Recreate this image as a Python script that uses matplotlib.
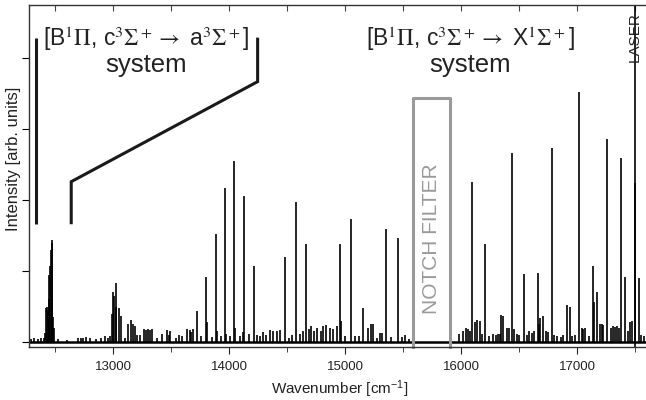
import numpy as np
import matplotlib
matplotlib.use('Agg')
import matplotlib.pyplot as plt
from matplotlib.ticker import MultipleLocator

plt.rcParams['font.family'] = ['Liberation Sans', 'DejaVu Sans']
plt.rcParams['mathtext.fontset'] = 'custom'
plt.rcParams['mathtext.rm'] = 'Liberation Sans'
plt.rcParams['mathtext.it'] = 'Liberation Sans:italic'
plt.rcParams['mathtext.bf'] = 'Liberation Sans:bold'

# Line positions [cm-1] and heights [arb. units]
peak_pos = [
    12290, 12320, 12350, 12380, 12405, 12415, 12425, 12430, 12437, 12445,
    12452, 12457, 12463, 12471, 12476, 12481, 12490, 12530, 12600, 12700,
    12720, 12745, 12770, 12800, 12850, 12900, 12930, 12960, 12975,
    12993, 13003, 13012, 13023, 13030, 13055, 13069, 13103, 13132, 13152,
    13175, 13190, 13210, 13230, 13270, 13285, 13300, 13320, 13335, 13380,
    13425, 13465, 13480, 13494, 13540, 13567, 13595, 13640, 13660, 13675,
    13690, 13721, 13760, 13802, 13810, 13850, 13884, 13893, 13930, 13966,
    13975, 14010, 14046, 14055, 14095, 14125, 14132, 14170, 14218, 14240,
    14270, 14293, 14320, 14350, 14380, 14410, 14440, 14483, 14520, 14545,
    14575, 14610, 14640, 14664, 14690, 14710, 14735, 14760, 14790, 14810,
    14840, 14870, 14900, 14930, 14957, 14965, 15000, 15052, 15090, 15120,
    15152, 15195, 15225, 15245, 15280, 15300, 15316, 15351, 15400, 15457,
    15490, 15517, 15550, 15985, 16017, 16040, 16060, 16077, 16097, 16120,
    16140, 16160, 16180, 16207, 16240, 16276, 16300, 16320, 16339, 16348,
    16362, 16397, 16411, 16437, 16460, 16480, 16500, 16546, 16570, 16590,
    16610, 16630, 16661, 16675, 16685, 16704, 16730, 16750, 16782, 16800,
    16830, 16860, 16880, 16911, 16940, 16960, 16980, 17017, 17043, 17055,
    17069, 17100, 17134, 17146, 17175, 17198, 17213, 17227, 17259, 17290,
    17310, 17330, 17345, 17362, 17379, 17414, 17440, 17460, 17475, 17500,
    17534, 17555, 17575,
]
peak_height = [
    0.04, 0.05, 0.04, 0.05, 0.06, 0.13, 0.48, 0.50, 0.45, 0.60,
    0.95, 1.07, 1.30, 1.44, 1.40, 0.35, 0.20, 0.04, 0.03, 0.05,
    0.05, 0.06, 0.07, 0.05, 0.04, 0.06, 0.08, 0.05, 0.09,
    0.40, 0.71, 0.65, 0.83, 0.50, 0.48, 0.36, 0.06, 0.26, 0.31,
    0.26, 0.22, 0.10, 0.10, 0.18, 0.17, 0.18, 0.17, 0.18, 0.06,
    0.11, 0.17, 0.10, 0.16, 0.05, 0.10, 0.09, 0.18, 0.17, 0.14,
    0.18, 0.44, 0.08, 0.92, 0.28, 0.07, 1.52, 0.15, 0.08, 2.17,
    0.12, 0.08, 2.55, 0.20, 0.08, 0.14, 2.06, 0.12, 1.07, 0.10,
    0.08, 0.14, 0.10, 0.17, 0.15, 0.16, 0.17, 1.20, 0.06, 0.10,
    1.97, 0.12, 0.16, 1.38, 0.18, 0.22, 0.16, 0.20, 0.15, 0.22,
    0.24, 0.20, 0.18, 0.22, 1.38, 0.30, 0.08, 1.73, 0.08, 0.08,
    0.48, 0.20, 0.25, 0.25, 0.06, 0.13, 0.13, 1.59, 0.07, 1.47,
    0.07, 0.10, 0.04, 0.12, 0.15, 0.20, 0.18, 0.16, 2.26, 0.28,
    0.31, 0.30, 0.12, 1.38, 0.08, 0.12, 0.10, 0.12, 0.12, 0.38,
    0.37, 0.20, 0.20, 2.66, 0.18, 0.12, 0.10, 0.96, 0.10, 0.15,
    0.13, 0.15, 0.97, 0.25, 0.34, 0.36, 0.15, 0.14, 2.74, 0.10,
    0.08, 0.07, 0.10, 0.52, 0.50, 0.08, 0.10, 3.53, 0.20, 0.18,
    0.20, 0.08, 1.07, 0.56, 0.71, 0.26, 0.25, 0.24, 2.86, 0.20,
    0.22, 0.21, 0.22, 0.20, 2.59, 0.91, 0.16, 0.28, 0.30, 2.24,
    0.90, 0.10, 0.08,
]

x_range = (12276, 17595)
y_range = (-0.07, 4.75)
laser_pos = 17500
notch_lo, notch_hi, notch_top = 15590, 15905, 3.44

# bracket outlines for the two band systems
left_bracket_x = [12340, 12340]
left_bracket_y = [4.28, 1.66]
right_bracket_x = [12640, 12640, 14247, 14247]
right_bracket_y = [1.66, 2.26, 3.67, 4.29]

fig = plt.figure(figsize=(6.46, 4.0), dpi=100)
ax = fig.add_axes([29 / 646, 53 / 400, 617 / 646, 342 / 400])

# spectrum: flat baseline plus the individual lines
ax.hlines(0.0, x_range[0], x_range[1], color='black', lw=1.8)
ax.vlines(peak_pos, 0.0, peak_height, color='black', lw=1.2)
ax.axvline(laser_pos, color='black', lw=1.2)

ax.plot(left_bracket_x, left_bracket_y, color='#1a1a1a', lw=2.2,
        solid_capstyle='butt')
ax.plot(right_bracket_x, right_bracket_y, color='#1a1a1a', lw=2.2,
        solid_capstyle='butt', solid_joinstyle='miter')

ax.plot([notch_lo, notch_lo, notch_hi, notch_hi],
        [y_range[0], notch_top, notch_top, y_range[0]],
        color='#9a9a9a', lw=2.2, clip_on=False)
ax.text((notch_lo + notch_hi) / 2, 1.46, 'NOTCH FILTER', rotation=90,
        ha='center', va='center', color='#9a9a9a', fontsize=15)

title_kw = dict(ha='center', va='center', fontsize=16.5, color='#222222',
                math_fontfamily='stix')
ax.text(13290, 4.27,
        r'[B$^1\Pi$, c$^3\Sigma^+\rightarrow$ a$^3\Sigma^+$]', **title_kw)
ax.text(16078, 4.27,
        r'[B$^1\Pi$, c$^3\Sigma^+\rightarrow$ X$^1\Sigma^+$]', **title_kw)
ax.text(13284, 3.9, 'system', ha='center', va='center', fontsize=18.5,
        color='#222222')
ax.text(16078, 3.9, 'system', ha='center', va='center', fontsize=18.5,
        color='#222222')
ax.text(laser_pos - 5, 4.3, 'LASER', rotation=90, ha='center',
        va='center', fontsize=11, color='#222222')

ax.set_xlim(x_range)
ax.set_ylim(y_range)

ax.xaxis.set_major_locator(MultipleLocator(1000))
ax.xaxis.set_minor_locator(MultipleLocator(500))
ax.yaxis.set_major_locator(MultipleLocator(1))
ax.tick_params(axis='x', which='both', direction='out', top=False,
               labelsize=9.5, pad=5, colors='#222222')
ax.tick_params(axis='x', which='major', length=5)
ax.tick_params(axis='x', which='minor', length=3.5)
ax.tick_params(axis='y', direction='out', length=5, labelleft=False)

# inward ticks along the top edge
top = ax.secondary_xaxis('top')
top.xaxis.set_major_locator(MultipleLocator(500))
top.tick_params(direction='in', length=4, labeltop=False, color='#444444')
top.spines['top'].set_visible(False)

ax.spines['right'].set_visible(False)
for s in ['left', 'top', 'bottom']:
    ax.spines[s].set_color('#333333')
    ax.spines[s].set_linewidth(1.0)

ax.set_xlabel('Wavenumber [cm$^{-1}$]', fontsize=11, color='#222222')
ax.set_ylabel('Intensity [arb. units]', fontsize=12, color='#222222')
ax.xaxis.set_label_coords(0.504, -0.092)
ax.yaxis.set_label_coords(-0.013, 0.55)

fig.savefig('out.png', dpi=100)
